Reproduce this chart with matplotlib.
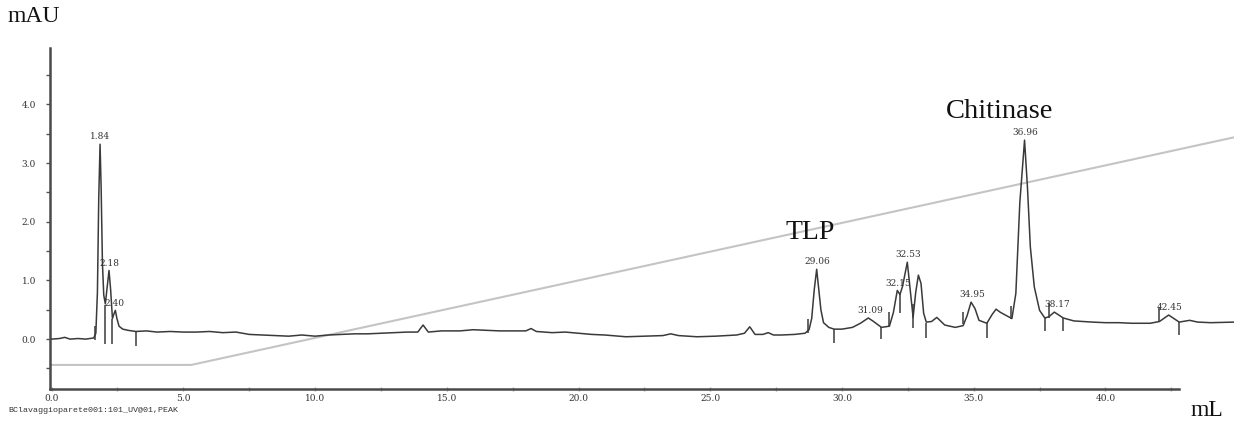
import matplotlib
matplotlib.use("Agg")
import matplotlib.pyplot as plt
from matplotlib.ticker import MultipleLocator

# UV trace (mL, mAU)
trace_ml = [0.0, 0.3, 0.5, 0.7, 1.0, 1.3, 1.6, 1.68, 1.74, 1.79, 1.84, 1.88, 1.93, 1.98,
            2.04, 2.10, 2.18, 2.24, 2.31, 2.36, 2.42, 2.48, 2.56, 2.7, 2.9, 3.2, 3.6, 4.0,
            4.5, 5.0, 5.5, 6.0, 6.5, 7.0, 7.5, 8.0, 8.5, 9.0, 9.5, 10.0, 10.5, 11.0, 11.5,
            12.0, 12.5, 13.0, 13.5, 13.9, 14.1, 14.3, 14.8, 15.5, 16.0, 16.5, 17.0, 17.5,
            18.0, 18.2, 18.4, 19.0, 19.5, 20.0, 20.5, 21.0, 21.8, 22.5, 23.2, 23.5, 23.8,
            24.5, 25.2, 26.0, 26.3, 26.5, 26.7, 27.0, 27.2, 27.4, 27.7, 28.2, 28.6, 28.75,
            28.85, 28.95, 29.04, 29.12, 29.2, 29.3, 29.5, 29.7, 30.0, 30.4, 30.7, 31.0,
            31.2, 31.5, 31.8, 31.95, 32.1, 32.2, 32.3, 32.48, 32.6, 32.7, 32.8, 32.9, 33.0,
            33.1, 33.2, 33.4, 33.6, 33.9, 34.3, 34.6, 34.75, 34.9, 35.05, 35.2, 35.5, 35.7,
            35.85, 36.0, 36.2, 36.45, 36.6, 36.75, 36.93, 37.04, 37.15, 37.3, 37.5, 37.7,
            37.85, 38.06, 38.4, 38.8, 39.5, 40.0, 40.5, 41.0, 41.7, 42.05, 42.4, 42.8, 43.2,
            43.5, 44.0, 44.9]
trace_mau = [0.0, 0.01, 0.03, 0.0, 0.01, 0.0, 0.02, 0.1, 0.8, 2.4, 3.32, 2.6, 1.3, 0.75,
             0.6, 0.85, 1.17, 0.85, 0.35, 0.42, 0.49, 0.35, 0.22, 0.17, 0.15, 0.13, 0.14, 0.12,
             0.13, 0.12, 0.12, 0.13, 0.11, 0.12, 0.08, 0.07, 0.06, 0.05, 0.07, 0.05, 0.07, 0.08, 0.09,
             0.09, 0.1, 0.11, 0.12, 0.12, 0.24, 0.12, 0.14, 0.14, 0.16, 0.15, 0.14, 0.14,
             0.14, 0.18, 0.13, 0.11, 0.12, 0.1, 0.08, 0.07, 0.04, 0.05, 0.06, 0.09, 0.06,
             0.04, 0.05, 0.07, 0.1, 0.21, 0.08, 0.08, 0.11, 0.07, 0.07, 0.08, 0.1, 0.16,
             0.35, 0.85, 1.19, 0.85, 0.5, 0.28, 0.2, 0.17, 0.17, 0.2, 0.27, 0.36,
             0.3, 0.2, 0.22, 0.45, 0.83, 0.76, 0.9, 1.31, 0.8, 0.37, 0.8, 1.09, 0.95,
             0.44, 0.29, 0.3, 0.37, 0.24, 0.2, 0.23, 0.4, 0.63, 0.52, 0.32, 0.27, 0.42,
             0.51, 0.46, 0.41, 0.35, 0.78, 2.32, 3.39, 2.59, 1.57, 0.89, 0.49, 0.36,
             0.38, 0.46, 0.36, 0.31, 0.29, 0.28, 0.28, 0.27, 0.27, 0.3, 0.41, 0.29, 0.32,
             0.29, 0.28, 0.29]

# gradient (concentration) line breakpoints
grad_ml = [0.0, 5.3, 44.9]
grad_val = [-0.44, -0.44, 3.44]

# peak labels: retention volume and apex height
peak_ml = [1.84, 2.18, 2.40, 29.06, 31.09, 32.15, 32.53, 34.95, 36.96, 38.17, 42.45]
peak_mau = [3.32, 1.17, 0.49, 1.19, 0.36, 0.83, 1.31, 0.63, 3.39, 0.46, 0.41]

# integration markers: x, lower end, upper end
mark_ml = [1.63, 2.04, 2.31, 3.19, 28.7, 29.7, 31.5, 31.8, 32.2, 32.68, 33.2, 34.6,
           35.5, 36.4, 37.7, 37.85, 38.4, 42.05, 42.8]
mark_lo = [-0.02, -0.08, -0.08, -0.12, 0.1, -0.07, 0.0, 0.22, 0.45, 0.19, 0.02, 0.25,
           0.02, 0.34, 0.14, 0.36, 0.14, 0.29, 0.07]
mark_hi = [0.22, 0.58, 0.35, 0.13, 0.35, 0.17, 0.2, 0.47, 0.78, 0.6, 0.28, 0.46,
           0.27, 0.56, 0.36, 0.62, 0.36, 0.55, 0.29]

fig = plt.figure(figsize=(12.34, 4.25), dpi=100)
ax = fig.add_axes([50 / 1234, 1 - 389 / 425, 1184 / 1234, 341 / 425])

ax.plot(grad_ml, grad_val, color="#c4c4c4", lw=1.5, zorder=1)
ax.plot(trace_ml, trace_mau, color="#3a3a3a", lw=1.1, zorder=3)
ax.vlines(mark_ml, mark_lo, mark_hi, color="#3a3a3a", lw=1.1, zorder=3)

for x, y in zip(peak_ml, peak_mau):
    ax.annotate(f"{x:.2f}", (x, y), xytext=(0, 2), textcoords="offset points",
                ha="center", va="bottom", fontsize=6.5, family="DejaVu Serif",
                color="#333333", zorder=4)

ax.text(28.8, 1.82, "TLP", ha="center", va="center", fontsize=20,
        family="Liberation Serif", color="#111111")
ax.text(36.0, 3.88, "Chitinase", ha="center", va="center", fontsize=20.5,
        family="Liberation Serif", color="#111111")

ax.set_xlim(-0.06, 44.88)
ax.set_ylim(-0.85, 4.96)

for side in ["top", "right"]:
    ax.spines[side].set_visible(False)
for side in ["left", "bottom"]:
    ax.spines[side].set_color("#4a4a4a")
    ax.spines[side].set_linewidth(1.8)
ax.spines["bottom"].set_bounds(-0.06, 42.8)

ax.set_yticks([0, 1, 2, 3, 4])
ax.yaxis.set_minor_locator(MultipleLocator(0.5))
ax.set_xticks([0, 5, 10, 15, 20, 25, 30, 35, 40])
ax.set_xticks([2.5, 7.5, 12.5, 17.5, 22.5, 27.5, 32.5, 37.5, 42.5], minor=True)
ax.tick_params(axis="y", which="both", direction="out", length=3, width=1,
               color="#555555", labelsize=6.5, labelcolor="#333333", pad=7)
ax.tick_params(axis="x", which="both", direction="inout", length=3, width=1,
               color="#aaaaaa", labelsize=6.5, labelcolor="#333333", pad=2)
ax.set_yticklabels([f"{v:.1f}" for v in [0, 1, 2, 3, 4]], family="DejaVu Serif")
ax.set_xticklabels([f"{v:.1f}" for v in range(0, 45, 5)], family="DejaVu Serif")

fig.text(8 / 1234, 1 - 17 / 425, "mAU", ha="left", va="center", fontsize=17,
         family="Liberation Serif", color="#111111")
fig.text(1207 / 1234, 1 - 410 / 425, "mL", ha="center", va="center", fontsize=17,
         family="Liberation Serif", color="#111111")
fig.text(8 / 1234, 1 - 411 / 425, "BClavaggioparete001:101_UV@01,PEAK", ha="left",
         va="center", fontsize=6, family="Liberation Mono", color="#333333")

fig.savefig("out.png", dpi=100)
